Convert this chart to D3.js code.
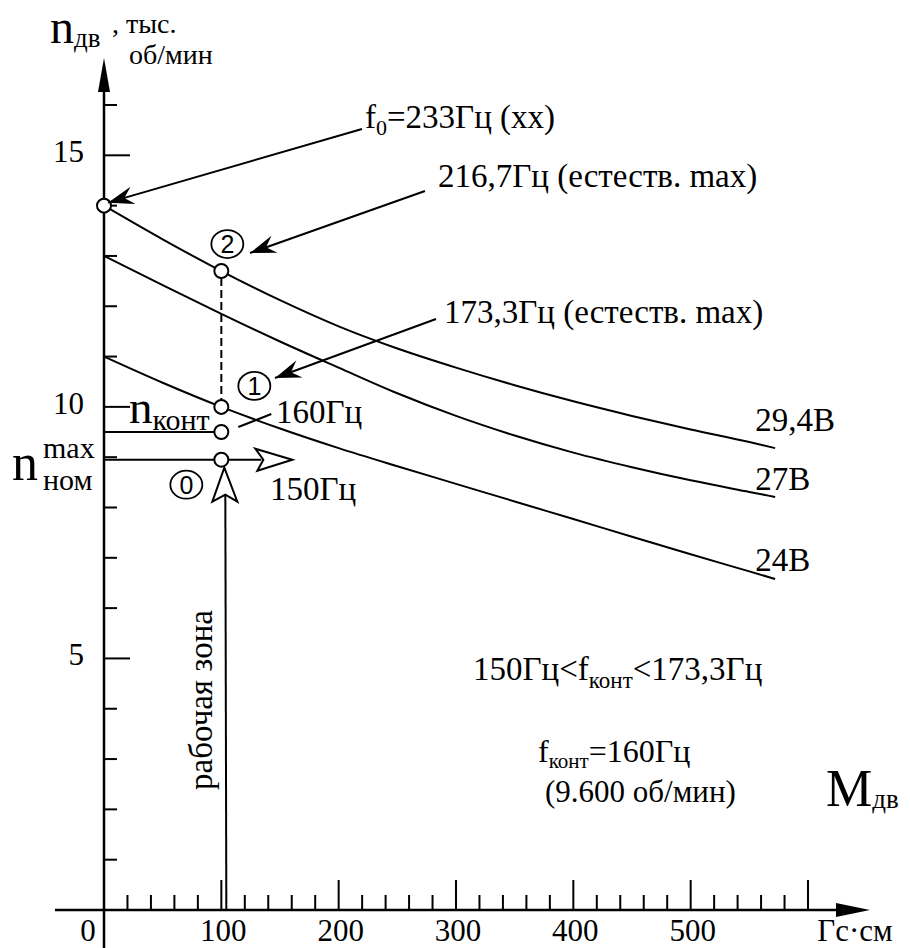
<!DOCTYPE html>
<html><head><meta charset="utf-8">
<script src="https://cdn.jsdelivr.net/npm/d3@7/dist/d3.min.js"></script>
<style>
body{margin:0;background:#fff}
svg text{font-family:'Liberation Serif','Times New Roman',Times,'Nimbus Roman','FreeSerif','DejaVu Serif',serif;fill:#000}
svg text.cn{font-family:'Liberation Sans',Arial,sans-serif}
</style>
</head><body>
<svg id="c" width="910" height="948" font-family="Liberation Serif, serif"></svg>
<script>
// ---- data ----
const torque   = [0, 50, 100, 150, 200, 250, 300, 350, 400, 450, 500, 550, 572];
const speed294 = [14.0, 13.33, 12.7, 12.12, 11.6, 11.16, 10.78, 10.43, 10.11, 9.82, 9.55, 9.3, 9.18];
const speed27  = [13.0, 12.42, 11.85, 11.3, 10.78, 10.27, 9.82, 9.43, 9.09, 8.8, 8.54, 8.31, 8.21];
const speed24  = [11.0, 10.48, 10.0, 9.57, 9.18, 8.82, 8.47, 8.12, 7.77, 7.42, 7.07, 6.73, 6.58];
const seriesNames = ["29,4В", "27В", "24В"];
const xTickValues = [0, 100, 200, 300, 400, 500];
const yTickValues = [5, 10, 15];
const workM = 100;          // рабочая зона, Гс·см
const nIdle = 14.0;         // f0 = 233 Гц
const nPoint2 = 12.7;       // 216,7 Гц
const nPoint1 = 10.0;       // 173,3 Гц
const nKont = 9.5;          // 160 Гц
const nNom = 8.95;          // 150 Гц

const SERIF = "'Liberation Serif','Times New Roman',Times,'Nimbus Roman','FreeSerif',serif";
const svg = d3.select("#c");
const x = d3.scaleLinear().domain([0, 600]).range([104, 808]);
const y = d3.scaleLinear().domain([0, 16]).range([910, 105]);
const X0 = x(0), Y0 = y(0);

// ---- axes ----
svg.append("line").attr("x1", 55).attr("y1", Y0).attr("x2", 850).attr("y2", Y0)
  .attr("stroke", "#000").attr("stroke-width", 2.5);
svg.append("path").attr("d", `M870,${Y0} L836,${Y0-7} L836,${Y0+7} Z`).attr("fill", "#000");
svg.append("line").attr("x1", X0).attr("y1", 80).attr("x2", X0).attr("y2", 948)
  .attr("stroke", "#000").attr("stroke-width", 2.5);
svg.append("path").attr("d", `M${X0},58 L${X0-6},92 L${X0+6},92 Z`).attr("fill", "#000");

// y ticks
const yT = d3.range(1, 17);
svg.selectAll(".yt").data(yT).join("line")
  .attr("x1", X0).attr("x2", d => X0 + (d % 5 === 0 ? 26 : 13))
  .attr("y1", d => y(d)).attr("y2", d => y(d))
  .attr("stroke", "#000").attr("stroke-width", 2);
svg.selectAll(".ytl").data(yTickValues).join("text")
  .attr("x", X0 - 20).attr("y", d => y(d) + 7).attr("text-anchor", "end")
  .attr("font-family", SERIF).attr("font-size", 31).text(d => d);

// x ticks
const xT = d3.range(20, 601, 20);
svg.selectAll(".xt").data(xT).join("line")
  .attr("x1", d => x(d)).attr("x2", d => x(d))
  .attr("y1", Y0).attr("y2", d => Y0 - (d % 100 === 0 ? 30 : 15))
  .attr("stroke", "#000").attr("stroke-width", 2);
svg.selectAll(".xtl").data(xTickValues).join("text")
  .attr("x", d => d === 0 ? X0 - 16 : x(d) + 2).attr("y", 941).attr("text-anchor", "middle")
  .attr("font-family", SERIF).attr("font-size", 31).text(d => d);

// ---- rich text helper ----
function rich(xp, yp, parts, anchor) {
  const t = svg.append("text").attr("x", xp).attr("y", yp)
    .attr("text-anchor", anchor || "start").attr("font-family", SERIF);
  let cur = 0;
  parts.forEach(p => {
    const off = p.off || 0;
    t.append("tspan").attr("dy", off - cur).attr("font-size", p.s).text(p.t);
    cur = off;
  });
  return t;
}
function label(xp, yp, s, str) {
  return svg.append("text").attr("x", xp).attr("y", yp).attr("font-family", SERIF)
    .attr("font-size", s).text(str);
}

label(855, 941, 31, "Гс·см").attr("text-anchor", "middle");

// axis titles
rich(50, 43, [{t: "n", s: 48}, {t: "дв", s: 27, off: 4}]);
label(112, 33, 28, ", тыс.");
label(129, 64, 28, "об/мин");
rich(826, 806, [{t: "M", s: 52}, {t: "дв", s: 27, off: 2}]);

// ---- curves ----
const line = d3.line().x((d, i) => x(torque[i])).y(d => y(d)).curve(d3.curveMonotoneX);
[speed294, speed27, speed24].forEach(s => {
  svg.append("path").attr("d", line(s)).attr("fill", "none").attr("stroke", "#000").attr("stroke-width", 2);
});
const lastX = x(torque[torque.length - 1]);
const lblOff = [-17, -7, -8];
[speed294, speed27, speed24].forEach((s, i) => {
  label(lastX - 20, y(s[s.length - 1]) + lblOff[i], 33, seriesNames[i]);
});

// ---- working point construction ----
const px = x(workM);
svg.append("line").attr("x1", X0).attr("x2", px - 7).attr("y1", y(nKont)).attr("y2", y(nKont))
  .attr("stroke", "#000").attr("stroke-width", 2);
svg.append("line").attr("x1", X0).attr("x2", px + 40).attr("y1", y(nNom)).attr("y2", y(nNom))
  .attr("stroke", "#000").attr("stroke-width", 2);
{
  const cy = y(nNom);
  svg.append("path").attr("d", `M${px+71},${cy} L${px+34},${cy-11} L${px+42},${cy} L${px+36},${cy+11} Z`)
    .attr("fill", "#fff").attr("stroke", "#000").attr("stroke-width", 2);
  svg.append("line").attr("x1", px + 4).attr("x2", px + 5).attr("y1", cy + 36).attr("y2", Y0)
    .attr("stroke", "#000").attr("stroke-width", 2);
  svg.append("path").attr("d", `M${px+3},${cy+8} L${px-9},${cy+42} L${px+4},${cy+35} L${px+16},${cy+42} Z`)
    .attr("fill", "#fff").attr("stroke", "#000").attr("stroke-width", 2);
}
svg.append("line").attr("x1", px).attr("x2", px).attr("y1", y(nPoint2) + 7).attr("y2", y(nPoint1) - 7)
  .attr("stroke", "#000").attr("stroke-width", 2).attr("stroke-dasharray", "8,4");

const pts = [[0, nIdle], [workM, nPoint2], [workM, nPoint1], [workM, nKont], [workM, nNom]];
svg.selectAll(".pt").data(pts).join("circle")
  .attr("cx", d => x(d[0])).attr("cy", d => y(d[1])).attr("r", 7)
  .attr("fill", "#fff").attr("stroke", "#000").attr("stroke-width", 2);

const circled = [["2", px + 6, y(nPoint2) - 27], ["1", px + 33, y(nPoint1) - 21], ["0", px - 35, y(nNom) + 25]];
circled.forEach(([t, cx, cy]) => {
  svg.append("ellipse").attr("cx", cx).attr("cy", cy).attr("rx", 16).attr("ry", 14)
    .attr("fill", "none").attr("stroke", "#000").attr("stroke-width", 1.8);
  svg.append("text").attr("class", "cn").attr("font-family", "'Liberation Sans',Arial,sans-serif")
    .attr("x", cx).attr("y", cy + 9).attr("text-anchor", "middle").attr("font-size", 25).text(t);
});

function arrow(x1, y1, x2, y2) {
  svg.append("line").attr("x1", x1).attr("y1", y1).attr("x2", x2).attr("y2", y2)
    .attr("stroke", "#000").attr("stroke-width", 2);
  const dx = x1 - x2, dy = y1 - y2, L = Math.hypot(dx, dy);
  const ux = dx / L, uy = dy / L, vx = -uy, vy = ux;
  const len = 26, hw = 9, nt = 17;
  const p = [[x2, y2], [x2 + ux*len + vx*hw, y2 + uy*len + vy*hw], [x2 + ux*nt, y2 + uy*nt], [x2 + ux*len - vx*hw, y2 + uy*len - vy*hw]];
  svg.append("path").attr("d", "M" + p.map(q => q.join(",")).join("L") + "Z").attr("fill", "#000");
}
arrow(362, 129, x(0) + 4, y(nIdle) - 3);
arrow(425, 191, 250, 253);
arrow(436, 319, 275, 378);
svg.append("line").attr("x1", px + 17).attr("y1", y(nKont) - 5).attr("x2", px + 50).attr("y2", y(nKont) - 18)
  .attr("stroke", "#000").attr("stroke-width", 2);

// ---- annotations ----
rich(365, 128, [{t: "f", s: 33}, {t: "0", s: 22, off: 7}, {t: "=233Гц (хх)", s: 33}]);
label(438, 187, 33, "216,7Гц (естеств. max)");
label(444, 323, 33, "173,3Гц (естеств. max)");
label(276, 423, 33, "160Гц");
label(270, 500, 33, "150Гц");
rich(129, 423, [{t: "n", s: 47}, {t: "конт", s: 30, off: 7}]);
rich(12, 480, [{t: "n", s: 52}]);
label(43, 458, 30, "max");
label(43, 490, 30, "ном");

svg.append("text").attr("transform", `translate(${px - 9},700) rotate(-90)`).attr("text-anchor", "middle")
  .attr("font-family", SERIF).attr("font-size", 33).text("рабочая зона");

rich(473, 680, [{t: "150Гц<f", s: 33}, {t: "конт", s: 23, off: 8}, {t: "<173,3Гц", s: 33}]);
rich(538, 762, [{t: "f", s: 32}, {t: "конт", s: 21, off: 6}, {t: "=160Гц", s: 32}]);
label(545, 802, 31, "(9.600 об/мин)");
</script>
</body></html>
